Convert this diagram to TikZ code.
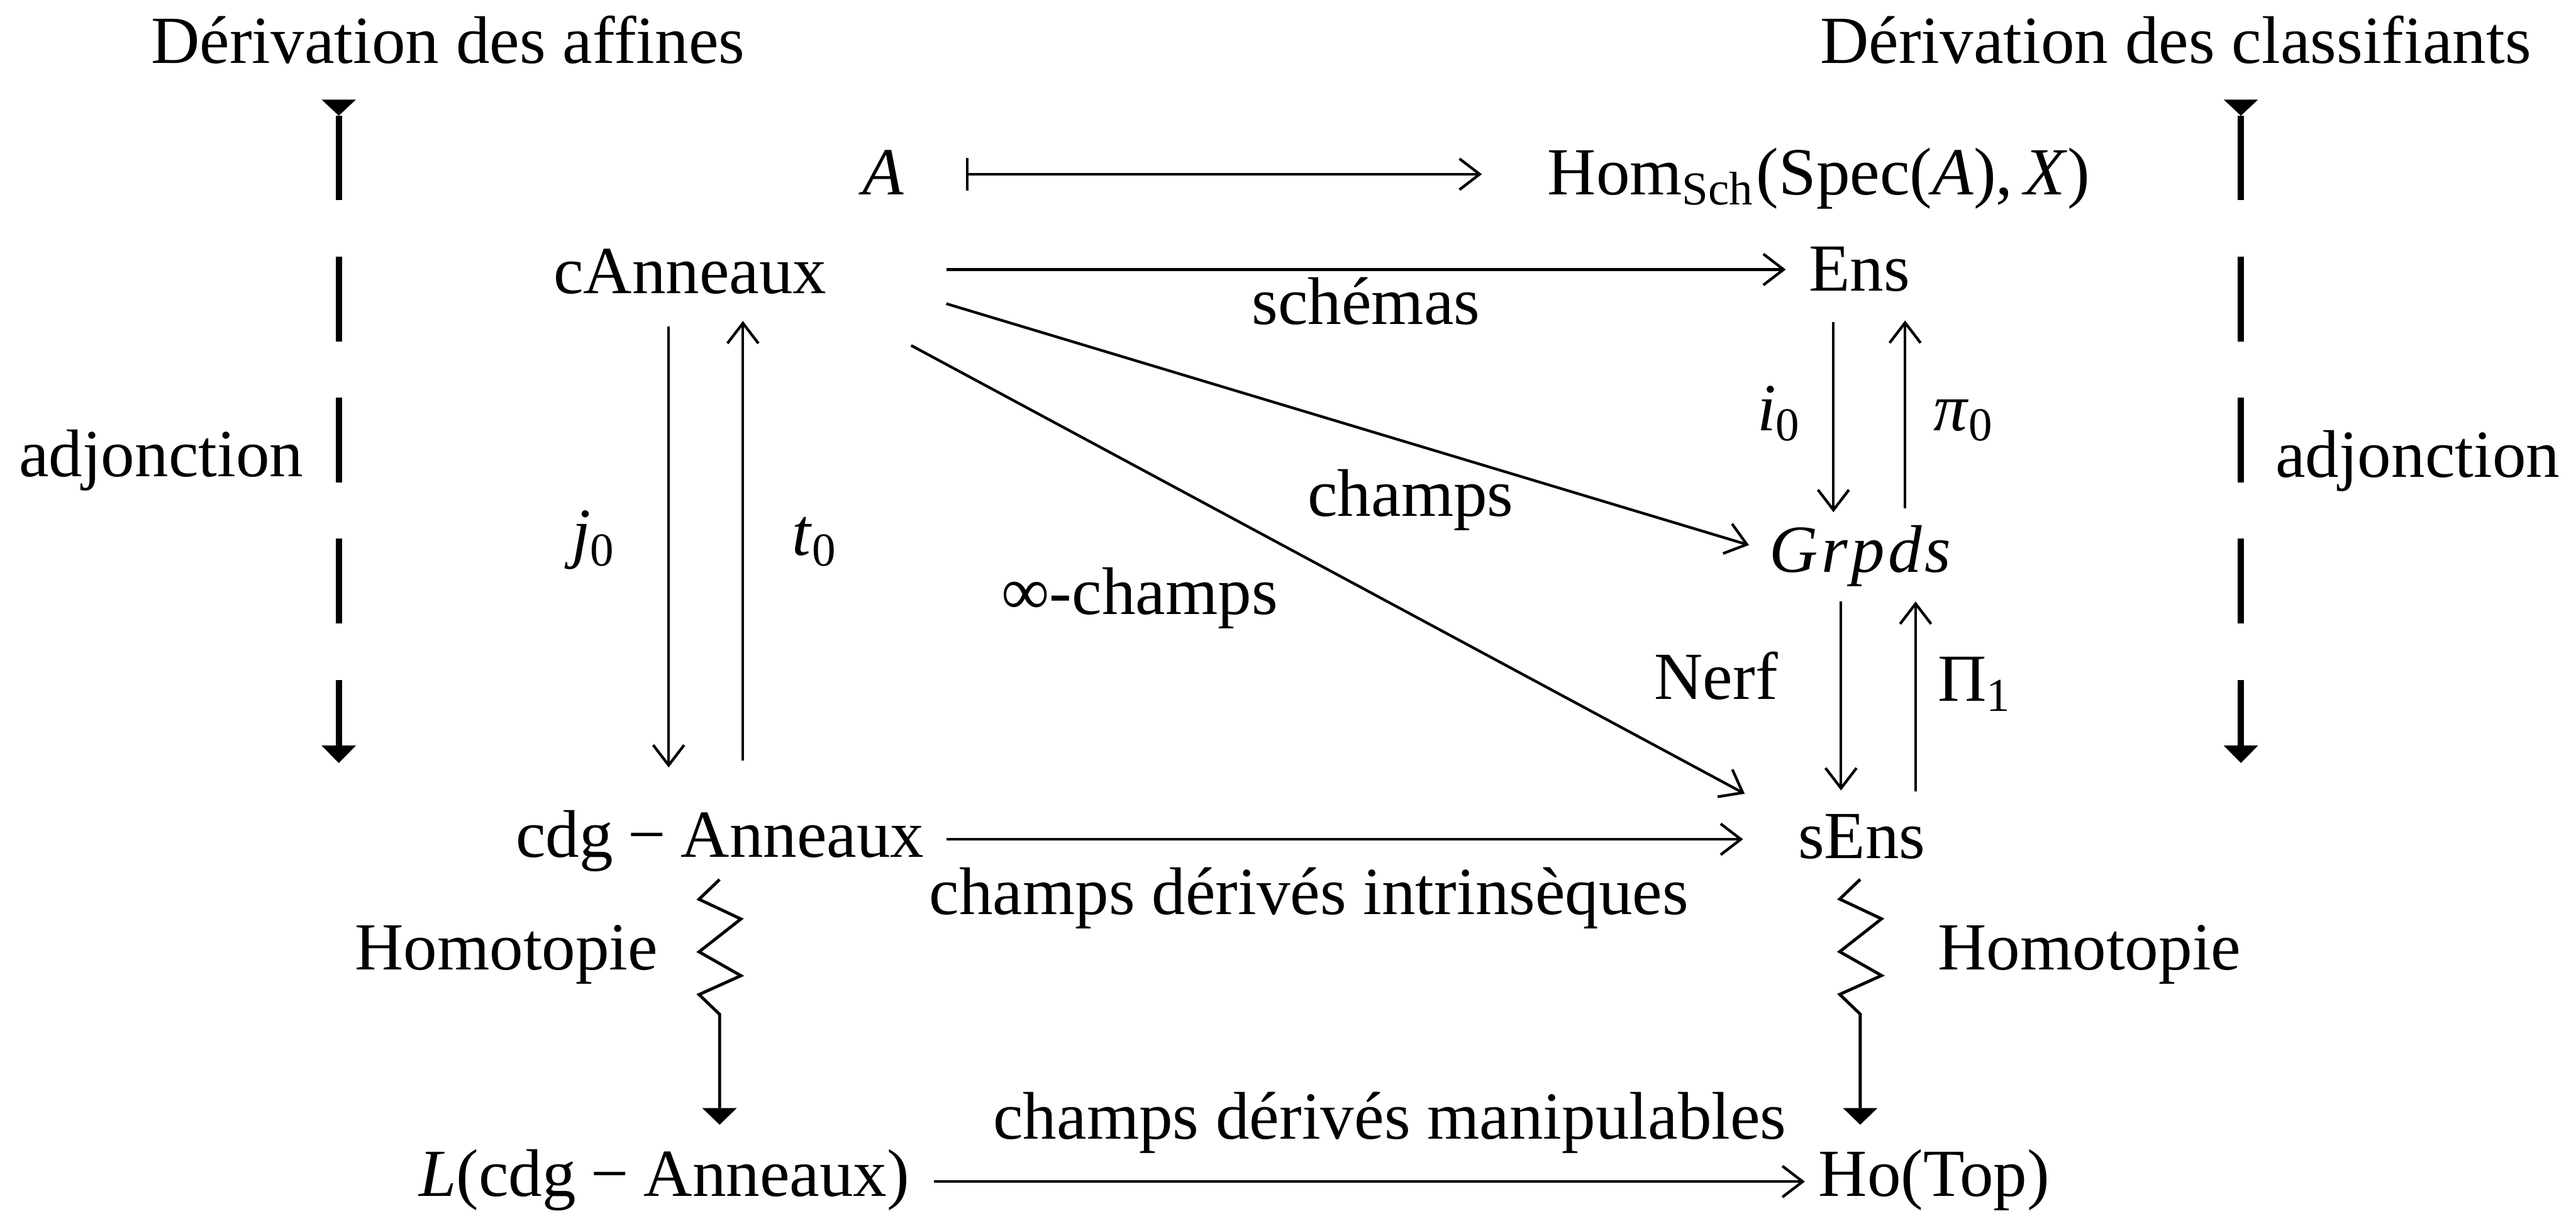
\documentclass[tikz,border=0pt]{standalone}
\usepackage{fontspec}
\setmainfont{Liberation Serif}
\usetikzlibrary{arrows.meta}
\newcommand\mminus{\kern0.222em−\kern0.222em}
\begin{document}
\begin{tikzpicture}[x=0.2439pt,y=-0.2439pt,
  txt/.style={anchor=base west,inner sep=0pt,outer sep=0pt},
  arr/.style={line width=0.4pt,-{Straight Barb[length=3pt,width=4.6pt]}},
  mapsarr/.style={line width=0.4pt,{Bar[width=4.9pt]}-{Straight Barb[length=3pt,width=4.6pt]}},
  adjarr/.style={line width=0.95pt,dash pattern=on 12.56pt off 8.37pt,
     {Triangle[reversed,length=2.39pt,width=5.1pt,line width=0pt]}-{Triangle[length=2.59pt,width=5.1pt,line width=0pt]}},
  zzarr/.style={line width=0.45pt,-{Triangle[length=2.46pt,width=5.1pt,line width=0pt]}}]
\fill[white] (0,0) rectangle (1568,747);
\useasboundingbox (0,0) rectangle (1568,747);

% titles and side labels
\node[txt] (tL) at (92,38.5) {Dérivation des affines};
\node[txt] (tR) at (1108,38.5) {Dérivation des classifiants};
\node[txt] (adjL) at (11.5,290) {adjonction};
\node[txt] (adjR) at (1385,290.5) {adjonction};

% objects
\node[txt] (nA) at (525,118.5) {\textit{A}};
\node[txt] (nHom) at (942,118.5) {Hom\textsubscript{Sch}(Spec(\textit{A}),\,\textit{X})};
\node[txt] (nCA) at (337,178.5) {cAnneaux};
\node[txt] (nEns) at (1101,177) {Ens};
\node[txt] (nGr) at (1077,348) {\textit{G\kern.05em r\kern.05em p\kern.05em d\kern.05em s}};
\node[txt] (nCdg) at (314,521.5) {cdg\mminus Anneaux};
\node[txt] (nsEns) at (1094.5,522.5) {sEns};
\node[txt] (nL) at (255,728) {\textit{L}(cdg\mminus Anneaux)};
\node[txt] (nHo) at (1107,728) {Ho(Top)};

% arrow labels
\node[txt] (lSch) at (762,197.3) {schémas};
\node[txt] (lCh) at (796,314) {champs};
\node[txt] (lInf) at (609.6,374) {∞-champs};
\node[txt] (lj) at (348,338) {\textit{j}\textsubscript{0}};
\node[txt] (lt) at (482,338) {\textit{t}\textsubscript{0}};
\node[txt] (li) at (1069.6,262) {\textit{i}\textsubscript{0}};
\node[txt] (lpi) at (1177,262) {\textit{π}\textsubscript{0}};
\node[txt] (lNerf) at (1007,425.5) {Nerf};
\node[txt] (lPi) at (1179.6,426.5) {Π\textsubscript{1}};
\node[txt] (lInt) at (565.6,556.5) {champs dérivés intrinsèques};
\node[txt] (lMan) at (604.6,693) {champs dérivés manipulables};
\node[txt] (lHL) at (216,590) {Homotopie};
\node[txt] (lHR) at (1179.6,590) {Homotopie};

% connector end points
\coordinate (mS) at (588,106);   \coordinate (mE) at (902,106);
\coordinate (a1S) at (576,164);  \coordinate (a1E) at (1087,164);
\coordinate (a2S) at (576,184.8); \coordinate (a2E) at (1064.6,331.7);
\coordinate (a3S) at (554.6,210.2); \coordinate (a3E) at (1062,483);
\coordinate (jS) at (407,198.8); \coordinate (jE) at (407,467);
\coordinate (tS) at (452.2,463); \coordinate (tE) at (452.2,195.3);
\coordinate (a4S) at (576,510.7); \coordinate (a4E) at (1061,510.7);
\coordinate (a5S) at (568.6,719); \coordinate (a5E) at (1098.6,719);
\coordinate (iS) at (1116,196); \coordinate (iE) at (1116,311.7);
\coordinate (pS) at (1159.6,309.4); \coordinate (pE) at (1159.6,195);
\coordinate (nS) at (1120.6,366); \coordinate (nE) at (1120.6,481);
\coordinate (PS) at (1166,481.7); \coordinate (PE) at (1166,366);
\coordinate (zLs) at (438,535.2); \coordinate (zLe) at (438,684.4);
\coordinate (zRs) at (1132.3,535.1); \coordinate (zRe) at (1132.3,684.4);
\coordinate (dLs) at (206.2,60.6); \coordinate (dLe) at (206.2,464.3);
\coordinate (dRs) at (1364,60.6); \coordinate (dRe) at (1364,464.3);

% connectors
\draw[mapsarr] (mS) -- (mE);
\draw[arr] (a1S) -- (a1E);
\draw[arr] (a2S) -- (a2E);
\draw[arr] (a3S) -- (a3E);
\draw[arr] (jS) -- (jE);
\draw[arr] (tS) -- (tE);
\draw[arr] (a4S) -- (a4E);
\draw[arr] (a5S) -- (a5E);
\draw[arr] (iS) -- (iE);
\draw[arr] (pS) -- (pE);
\draw[arr] (nS) -- (nE);
\draw[arr] (PS) -- (PE);
\draw[zzarr] (zLs) -- ++(-12.5,12) -- ++(25.5,12) -- ++(-25.5,20) -- ++(25.5,14.5) -- ++(-25.5,11.5) -- ++(12.5,12) -- (zLe);
\draw[zzarr] (zRs) -- ++(-12.5,12) -- ++(25.5,12) -- ++(-25.5,20) -- ++(25.5,14.5) -- ++(-25.5,11.5) -- ++(12.5,12) -- (zRe);
\draw[adjarr] (dLs) -- (dLe);
\draw[adjarr] (dRs) -- (dRe);
\end{tikzpicture}
\end{document}
